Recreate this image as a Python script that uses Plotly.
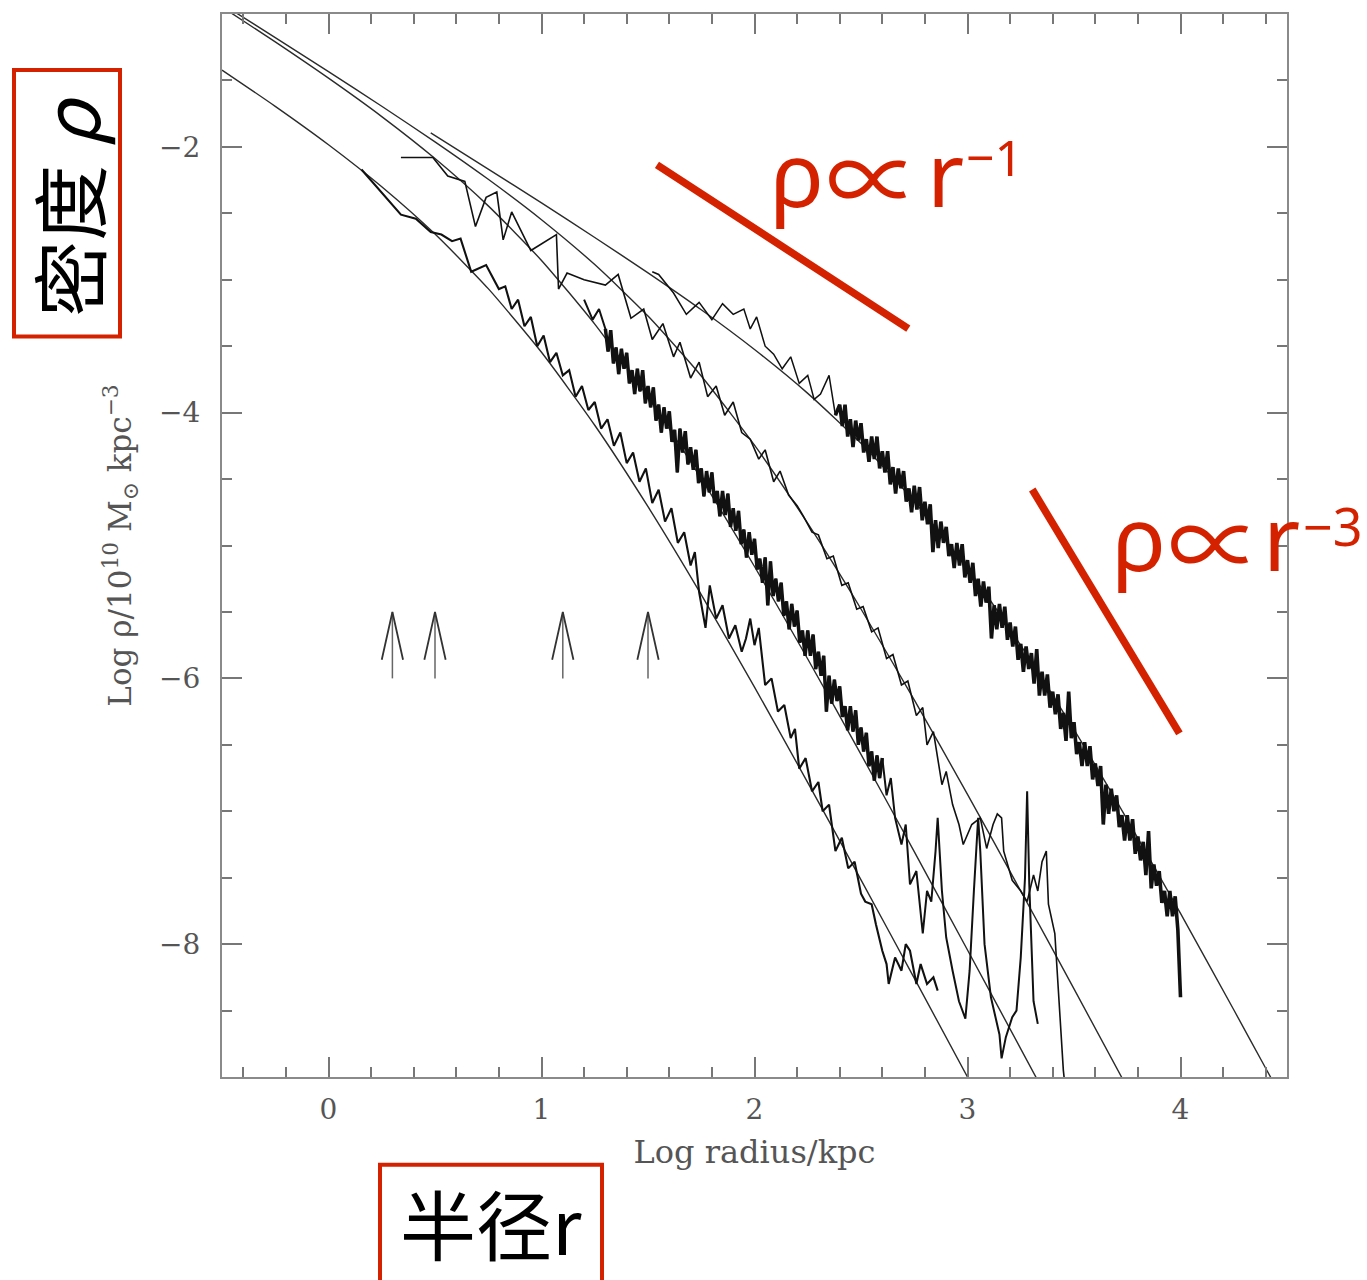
import plotly.graph_objects as go

# ---------------- data ----------------
fit1_x = [0.48, 0.75, 1.0, 1.25, 1.5, 1.75, 2.0, 2.25, 2.5, 2.75, 3.0, 3.25, 3.5, 3.75, 4.0, 4.25, 4.4, 4.45]
fit1_y = [-1.894, -2.167, -2.422, -2.682, -2.948, -3.226, -3.525, -3.855, -4.231, -4.668, -5.175, -5.751, -6.386, -7.063, -7.769, -8.494, -8.934, -9.08]

fit2_x = [-0.5, -0.25, 0.0, 0.25, 0.5, 0.75, 1.0, 1.25, 1.5, 1.75, 2.0, 2.25, 2.5, 2.75, 3.0, 3.25, 3.5, 3.75]
fit2_y = [-0.924, -1.178, -1.434, -1.694, -1.962, -2.244, -2.548, -2.886, -3.273, -3.724, -4.245, -4.834, -5.478, -6.162, -6.873, -7.600, -8.337, -9.080]

fit3_x = [-0.5, -0.25, 0.0, 0.25, 0.5, 0.75, 1.0, 1.25, 1.5, 1.75, 2.0, 2.25, 2.5, 2.75, 3.0, 3.25, 3.5]
fit3_y = [-0.947, -1.210, -1.483, -1.772, -2.088, -2.444, -2.855, -3.334, -3.883, -4.496, -5.158, -5.854, -6.572, -7.304, -8.044, -8.788, -9.535]

fit4_x = [-0.5, -0.25, 0.0, 0.25, 0.5, 0.75, 1.0, 1.25, 1.5, 1.75, 2.0, 2.25, 2.5, 2.75, 3.0]
fit4_y = [-1.422, -1.695, -1.984, -2.300, -2.656, -3.067, -3.546, -4.095, -4.708, -5.370, -6.066, -6.784, -7.516, -8.256, -9.000]

dataA_x = [1.52, 1.55, 1.62, 1.68, 1.74, 1.80, 1.85, 1.90, 1.95, 1.98, 2.01, 2.05, 2.09, 2.13, 2.17, 2.21, 2.25, 2.28, 2.31, 2.35, 2.38,
           2.4, 2.4125, 2.425, 2.4375, 2.45, 2.4625, 2.475, 2.4875,
           2.5, 2.5125, 2.525, 2.5375, 2.55, 2.5625, 2.575, 2.5875,
           2.6, 2.6125, 2.625, 2.6375, 2.65, 2.6625, 2.675, 2.6875,
           2.7, 2.7125, 2.725, 2.7375, 2.75, 2.7625, 2.775, 2.7875,
           2.8, 2.8125, 2.825, 2.8375, 2.85, 2.8625, 2.875, 2.8875,
           2.9, 2.9125, 2.925, 2.9375, 2.95, 2.9625, 2.975, 2.9875,
           3.0, 3.0125, 3.025, 3.0375, 3.05, 3.0625, 3.075, 3.0875,
           3.1, 3.1125, 3.125, 3.1375, 3.15, 3.1625, 3.175, 3.1875,
           3.2, 3.2125, 3.225, 3.2375, 3.25, 3.2625, 3.275, 3.2875,
           3.3, 3.3125, 3.325, 3.3375, 3.35, 3.3625, 3.375, 3.3875,
           3.4, 3.4125, 3.425, 3.4375, 3.45, 3.4625, 3.475, 3.4875,
           3.5, 3.5125, 3.525, 3.5375, 3.55, 3.5625, 3.575, 3.5875,
           3.6, 3.6125, 3.625, 3.6375, 3.65, 3.6625, 3.675, 3.6875,
           3.7, 3.7125, 3.725, 3.7375, 3.75, 3.7625, 3.775, 3.7875,
           3.8, 3.8125, 3.825, 3.8375, 3.85, 3.8625, 3.875, 3.8875,
           3.9, 3.9125, 3.925, 3.9375, 3.95, 3.9625, 3.975, 3.9875,
           4.0]
dataA_y = [-2.94, -2.96, -3.10, -3.26, -3.17, -3.30, -3.18, -3.26, -3.22, -3.37, -3.28, -3.50, -3.56, -3.67, -3.58, -3.78, -3.72, -3.90, -3.86, -3.72, -4.02,
           -3.94, -4.10, -3.94, -4.18, -4.05, -4.26, -4.06, -4.21,
           -4.08, -4.30, -4.20, -4.37, -4.18, -4.35, -4.18, -4.42,
           -4.29, -4.45, -4.29, -4.54, -4.41, -4.61, -4.42, -4.57,
           -4.44, -4.67, -4.57, -4.75, -4.55, -4.73, -4.56, -4.81,
           -4.67, -4.84, -4.69, -5.05, -4.81, -5.02, -4.82, -4.98,
           -4.86, -5.08, -4.99, -5.17, -4.98, -5.15, -4.99, -5.24,
           -5.11, -5.28, -5.13, -5.38, -5.25, -5.46, -5.27, -5.43,
           -5.31, -5.70, -5.45, -5.63, -5.44, -5.62, -5.46, -5.71,
           -5.58, -5.76, -5.61, -5.86, -5.74, -5.95, -5.76, -5.93,
           -5.81, -6.04, -5.78, -6.13, -5.95, -6.13, -5.97, -6.22,
           -6.10, -6.27, -6.12, -6.38, -6.26, -6.47, -6.10, -6.45,
           -6.33, -6.57, -6.48, -6.66, -6.48, -6.66, -6.51, -6.76,
           -6.64, -6.81, -6.66, -7.10, -6.80, -7.02, -6.83, -7.00,
           -6.88, -7.12, -7.03, -7.22, -7.03, -7.22, -7.06, -7.32,
           -7.19, -7.37, -7.23, -7.48, -7.15, -7.58, -7.40, -7.56,
           -7.45, -7.69, -7.60, -7.79, -7.60, -7.79, -7.64, -7.89,
           -8.40]
dataA_dense_from = 20

dataB_x = [0.34, 0.49, 0.56, 0.64, 0.69, 0.74, 0.79, 0.82, 0.86, 0.95, 1.07, 1.08, 1.12, 1.20, 1.30, 1.36, 1.42, 1.48, 1.52, 1.57,
           1.62, 1.65, 1.70, 1.74, 1.78, 1.82, 1.86, 1.90, 1.94, 1.98, 2.02, 2.05, 2.09, 2.12, 2.16, 2.20, 2.23, 2.27, 2.30, 2.34,
           2.37, 2.41, 2.44, 2.48, 2.51, 2.55, 2.58, 2.62, 2.65, 2.69, 2.72, 2.76, 2.79, 2.81, 2.84, 2.88, 2.90, 2.93, 2.96, 2.98,
           3.02, 3.06, 3.09, 3.12, 3.14, 3.16, 3.17, 3.21, 3.25, 3.28, 3.31, 3.33, 3.35, 3.37, 3.38, 3.41, 3.45, 3.46]
dataB_y = [-2.08, -2.08, -2.22, -2.26, -2.60, -2.38, -2.34, -2.70, -2.49, -2.78, -2.66, -3.07, -2.95, -3.00, -3.04, -2.96, -3.29, -3.22, -3.45, -3.33,
           -3.58, -3.47, -3.74, -3.62, -3.88, -3.80, -4.02, -3.92, -4.15, -4.20, -4.35, -4.28, -4.52, -4.44, -4.62, -4.70, -4.78, -4.90, -4.92, -5.10,
           -5.08, -5.30, -5.28, -5.48, -5.46, -5.65, -5.62, -5.85, -5.82, -6.05, -6.02, -6.28, -6.22, -6.50, -6.40, -6.80, -6.70, -6.95, -7.10, -7.25,
           -7.10, -7.05, -7.28, -7.10, -7.02, -7.05, -7.30, -7.52, -7.60, -7.68, -7.48, -7.60, -7.38, -7.30, -7.70, -7.92, -8.95, -9.10]

dataC_x = [1.20, 1.24, 1.27,
           1.3, 1.3125, 1.325, 1.3375, 1.35, 1.3625, 1.375, 1.3875,
           1.4, 1.4125, 1.425, 1.4375, 1.45, 1.4625, 1.475, 1.4875,
           1.5, 1.5125, 1.525, 1.5375, 1.55, 1.5625, 1.575, 1.5875,
           1.6, 1.6125, 1.625, 1.6375, 1.65, 1.6625, 1.675, 1.6875,
           1.7, 1.7125, 1.725, 1.7375, 1.75, 1.7625, 1.775, 1.7875,
           1.8, 1.8125, 1.825, 1.8375, 1.85, 1.8625, 1.875, 1.8875,
           1.9, 1.9125, 1.925, 1.9375, 1.95, 1.9625, 1.975, 1.9875,
           2.0, 2.0125, 2.025, 2.0375, 2.05, 2.0625, 2.075, 2.0875,
           2.1, 2.1125, 2.125, 2.1375, 2.15, 2.1625, 2.175, 2.1875,
           2.2, 2.2125, 2.225, 2.2375, 2.25, 2.2625, 2.275, 2.2875,
           2.3, 2.3125, 2.325, 2.3375, 2.35, 2.3625, 2.375, 2.3875,
           2.4, 2.4125, 2.425, 2.4375, 2.45, 2.4625, 2.475, 2.4875,
           2.5, 2.5125, 2.525, 2.5375, 2.55, 2.5625, 2.575, 2.5875,
           2.60, 2.62, 2.64, 2.66, 2.69, 2.71, 2.73, 2.76, 2.79, 2.81, 2.83, 2.85, 2.86, 2.88,
           2.90, 2.93, 2.96, 2.99, 3.01, 3.03, 3.05, 3.06, 3.08, 3.11, 3.13, 3.15, 3.16, 3.18, 3.21, 3.23, 3.25, 3.27, 3.28, 3.29,
           3.31, 3.33]
dataC_y = [-3.15, -3.30, -3.22,
           -3.37, -3.54, -3.38, -3.63, -3.51, -3.71, -3.52, -3.67,
           -3.55, -3.78, -3.68, -3.86, -3.67, -3.84, -3.68, -3.93,
           -3.80, -3.96, -3.81, -4.06, -3.94, -4.15, -3.96, -4.12,
           -3.99, -4.22, -4.13, -4.45, -4.12, -4.30, -4.14, -4.39,
           -4.26, -4.43, -4.28, -4.53, -4.42, -4.63, -4.44, -4.60,
           -4.45, -4.68, -4.59, -4.78, -4.59, -4.77, -4.61, -4.86,
           -4.72, -4.89, -4.74, -4.99, -4.88, -5.09, -4.90, -5.07,
           -4.95, -5.18, -5.10, -5.28, -5.09, -5.45, -5.12, -5.38,
           -5.25, -5.42, -5.28, -5.53, -5.42, -5.63, -5.44, -5.61,
           -5.49, -5.73, -5.64, -5.83, -5.64, -5.83, -5.67, -5.93,
           -5.80, -5.98, -5.83, -6.25, -5.98, -6.19, -6.01, -6.17,
           -6.06, -6.29, -6.21, -6.39, -6.21, -6.40, -6.24, -6.50,
           -6.37, -6.55, -6.41, -6.66, -6.55, -6.77, -6.58, -6.75,
           -6.60, -6.88, -6.75, -7.05, -7.25, -7.10, -7.55, -7.45, -7.92, -7.60, -7.68, -7.30, -7.05, -7.60,
           -7.95, -8.20, -8.43, -8.56, -8.20, -7.60, -7.05, -7.30, -8.00, -8.40, -8.55, -8.68, -8.86, -8.70, -8.55, -8.50, -8.10, -7.50, -6.85, -7.55,
           -8.43, -8.60]
dataC_dense_from, dataC_dense_to = 3, 108

dataD_x = [0.155, 0.34, 0.41, 0.48, 0.53, 0.58, 0.62, 0.67, 0.74, 0.80, 0.83, 0.86, 0.89, 0.92, 0.95, 0.98, 1.01, 1.04, 1.07, 1.10,
           1.13, 1.16, 1.19, 1.22, 1.25, 1.28, 1.31, 1.34, 1.37, 1.40, 1.43, 1.46, 1.49, 1.52, 1.55, 1.58, 1.61, 1.64, 1.67, 1.70,
           1.72, 1.74, 1.77, 1.79, 1.82, 1.85, 1.88, 1.91, 1.94, 1.96, 1.98, 2.00, 2.02, 2.05, 2.08, 2.11, 2.14, 2.17, 2.19, 2.21,
           2.24, 2.27, 2.30, 2.32, 2.35, 2.38, 2.41, 2.44, 2.47, 2.50, 2.52, 2.55, 2.57, 2.60, 2.62, 2.63, 2.66, 2.69, 2.71, 2.73,
           2.76, 2.78, 2.81, 2.84, 2.86]
dataD_y = [-2.17, -2.51, -2.54, -2.64, -2.66, -2.71, -2.69, -2.94, -2.89, -3.07, -3.05, -3.22, -3.15, -3.35, -3.28, -3.50, -3.42, -3.62, -3.55, -3.72,
           -3.68, -3.88, -3.80, -3.98, -3.92, -4.12, -4.05, -4.25, -4.15, -4.38, -4.30, -4.52, -4.42, -4.68, -4.58, -4.82, -4.72, -4.98, -4.90, -5.15,
           -5.05, -5.35, -5.62, -5.30, -5.55, -5.45, -5.70, -5.60, -5.80, -5.70, -5.55, -5.75, -5.62, -6.05, -6.00, -6.25, -6.20, -6.45, -6.38, -6.68,
           -6.60, -6.85, -6.78, -7.00, -6.95, -7.30, -7.20, -7.43, -7.38, -7.62, -7.68, -7.70, -7.85, -8.05, -8.15, -8.30, -8.10, -8.20, -8.00, -8.05,
           -8.30, -8.15, -8.30, -8.25, -8.35]

arrow_x = [0.3, 0.5, 1.1, 1.5]
arrow_tail_y = -6.0
arrow_tip_y = -5.5

slope1_x = [1.542, 2.722]
slope1_y = [-2.135, -3.368]
slope3_x = [3.304, 3.995]
slope3_y = [-4.579, -6.414]

x_tick_vals = [0, 1, 2, 3, 4]
y_tick_vals = [-8, -6, -4, -2]

# ---------------- figure ----------------
W, H = 1367, 1280
L, R, T, B = 222, 80, 12, 203
RED = "#d42200"
INK = "#111111"

fig = go.Figure()


def line_trace(x, y, width, color=INK, **kw):
    return go.Scatter(x=x, y=y, mode="lines", line=dict(color=color, width=width, **kw),
                      hoverinfo="skip", showlegend=False)


for fx, fy in [(fit1_x, fit1_y), (fit2_x, fit2_y), (fit3_x, fit3_y), (fit4_x, fit4_y)]:
    fig.add_trace(line_trace(fx, fy, 1.4, "#2b2b2b", shape="spline", smoothing=0.6))

# data profiles: lighter sparse parts, heavier dense parts
fig.add_trace(line_trace(dataA_x[:dataA_dense_from + 1], dataA_y[:dataA_dense_from + 1], 1.5))
fig.add_trace(line_trace(dataA_x[dataA_dense_from:], dataA_y[dataA_dense_from:], 3.6))
fig.add_trace(line_trace(dataB_x, dataB_y, 1.6))
fig.add_trace(line_trace(dataC_x, dataC_y, 2.0))
fig.add_trace(line_trace(dataC_x[dataC_dense_from:dataC_dense_to], dataC_y[dataC_dense_from:dataC_dense_to], 3.5))
fig.add_trace(line_trace(dataD_x, dataD_y, 2.1))

# arrows (softening lengths)
hx = 0.05
hy = 0.36
for ax in arrow_x:
    fig.add_trace(line_trace([ax, ax], [arrow_tail_y, arrow_tip_y], 1.5, "#666666"))
    fig.add_trace(line_trace([ax - hx, ax, ax + hx], [arrow_tip_y - hy, arrow_tip_y, arrow_tip_y - hy], 1.8, "#333333"))

# red slope guides
for sx, sy in [(slope1_x, slope1_y), (slope3_x, slope3_y)]:
    fig.add_trace(line_trace(sx, sy, 7.5, RED))

tickfont = dict(family="DejaVu Serif", size=28, color="#555555")
axcommon = dict(showline=True, linecolor="#8a8a8a", linewidth=2, mirror="allticks", ticks="inside",
                tickcolor="#777777", tickwidth=2, showgrid=False, zeroline=False, tickfont=tickfont)

fig.update_xaxes(range=[-0.5, 4.5], tickvals=x_tick_vals, ticklen=20, ticklabelstandoff=6,
                 minor=dict(dtick=0.2, tick0=0, ticklen=10, ticks="inside", tickcolor="#777777", tickwidth=2, showgrid=False),
                 title=dict(text="Log radius/kpc", font=dict(family="DejaVu Serif", size=32, color="#555555"), standoff=16),
                 **axcommon)
fig.update_yaxes(range=[-9, -1], tickvals=y_tick_vals, ticklen=20, ticklabelstandoff=14,
                 minor=dict(dtick=0.5, tick0=0, ticklen=10, ticks="inside", tickcolor="#777777", tickwidth=2, showgrid=False),
                 title=dict(text="Log \u03c1/10<sup>10</sup> M<sub>\u2299</sub> kpc<sup>\u22123</sup>",
                            font=dict(family="DejaVu Serif", size=31, color="#555555"), standoff=18),
                 **axcommon)

pw, ph = W - L - R, H - T - B


def px(xp):
    return (xp - L) / pw


def py(yp):
    return (H - B - yp) / ph


# red boxes
fig.add_shape(type="rect", xref="paper", yref="paper", x0=px(14), x1=px(120), y0=py(335), y1=py(68),
              line=dict(color=RED, width=4))
fig.add_shape(type="rect", xref="paper", yref="paper", x0=px(380), x1=px(602), y0=py(1290), y1=py(1165),
              line=dict(color=RED, width=4))

SANS = "Noto Sans"
PROPF = "Noto Sans CJK SC"
annos = [
    dict(x=67, y=205, text="密度 <i>ρ</i>", textangle=-90, font=dict(family="Noto Sans CJK SC", size=76, color="black")),
    dict(x=491, y=1222, text="半径r", font=dict(family="Noto Sans CJK SC", size=76, color="black")),
    # rho ∝ r^-1 label (pieces laid out along one baseline)
    dict(x=797, y=170, text="ρ", font=dict(family=SANS, size=90, color=RED)),
    dict(x=873, y=172, text="\u221d", font=dict(family=PROPF, size=94, color=RED)),
    dict(x=945, y=170, text="r", font=dict(family=SANS, size=90, color=RED)),
    dict(x=994, y=155, text="\u22121", font=dict(family=SANS, size=50, color=RED)),
    # rho ∝ r^-3 label
    dict(x=1139, y=535, text="ρ", font=dict(family=SANS, size=90, color=RED)),
    dict(x=1215, y=538, text="\u221d", font=dict(family=PROPF, size=94, color=RED)),
    dict(x=1281, y=535, text="r", font=dict(family=SANS, size=90, color=RED)),
    dict(x=1333, y=524, text="\u22123", font=dict(family=SANS, size=52, color=RED)),
]
for a in annos:
    a["x"], a["y"] = px(a["x"]), py(a["y"])
    fig.add_annotation(xref="paper", yref="paper", showarrow=False, xanchor="center", yanchor="middle", **a)

fig.update_layout(width=W, height=H, margin=dict(l=L, r=R, t=T, b=B), paper_bgcolor="white", plot_bgcolor="white",
                  showlegend=False)

fig.write_html("out.html")
